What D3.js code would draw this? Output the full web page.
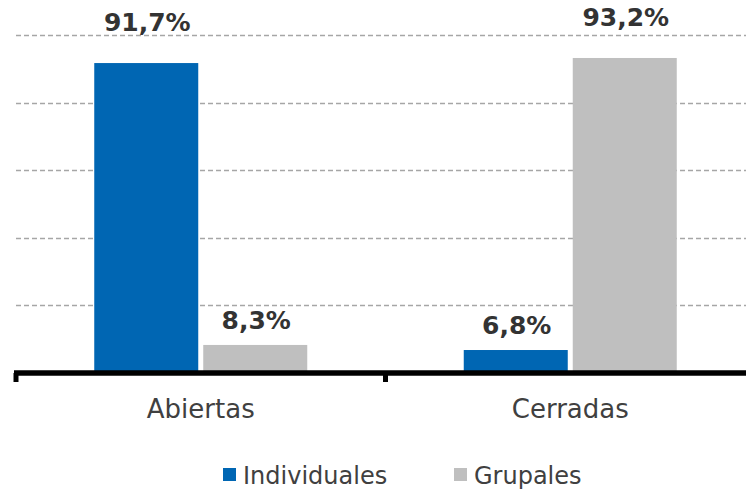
<!DOCTYPE html>
<html>
<head>
<meta charset="utf-8">
<script src="https://cdn.jsdelivr.net/npm/d3@7"></script>
<style>
  html, body { margin: 0; padding: 0; background: #fff; }
  svg { display: block; }
</style>
</head>
<body>
<svg id="chart" width="746" height="489"></svg>
<script>
const categories = ["Abiertas", "Cerradas"];
const seriesNames = ["Individuales", "Grupales"];
const individuales = [91.7, 6.8];
const grupales = [8.3, 93.2];
const yTicks = [0, 20, 40, 60, 80, 100];
const colors = ["#0066B3", "#BFBFBF"];

const fmt = v => d3.format(".1f")(v).replace(".", ",") + "%";

const svg = d3.select("#chart");
const W = 746, H = 489;

const y = d3.scaleLinear().domain([0, 100]).range([373, 35]);
const x0 = d3.scaleBand().domain(categories).range([16, 755]).padding(0);
const groupW = 213;
const x1 = d3.scaleBand().domain(seriesNames).range([0, groupW]).paddingInner(5 / 109).paddingOuter(0);
const color = d3.scaleOrdinal().domain(seriesNames).range(colors);

// gridlines
const grid = svg.append("g");
grid.selectAll("line")
  .data(yTicks.filter(t => t > 0))
  .join("line")
  .attr("x1", 16).attr("x2", W)
  .attr("y1", d => Math.round(y(d)) + 0.5)
  .attr("y2", d => Math.round(y(d)) + 0.5)
  .attr("stroke", "#A6A6A6")
  .attr("stroke-width", 1.3)
  .attr("stroke-dasharray", "5,3");

const data = categories.map((c, i) => ({
  cat: c,
  vals: [
    { s: seriesNames[0], v: individuales[i] },
    { s: seriesNames[1], v: grupales[i] }
  ]
}));

const groups = svg.append("g").selectAll("g")
  .data(data)
  .join("g")
  .attr("transform", d => `translate(${x0(d.cat) + (x0.bandwidth() - groupW) / 2},0)`);

groups.selectAll("rect")
  .data(d => d.vals)
  .join("rect")
  .attr("x", d => x1(d.s))
  .attr("width", x1.bandwidth())
  .attr("y", d => y(d.v))
  .attr("height", d => y(0) - y(d.v))
  .attr("fill", d => color(d.s));

groups.selectAll("text.val")
  .data(d => d.vals)
  .join("text")
  .attr("class", "val")
  .attr("x", d => x1(d.s) + x1.bandwidth() / 2 + 1)
  .attr("y", d => y(d.v) - (d.v > 50 ? 32 : 16))
  .attr("text-anchor", "middle")
  .attr("font-family", "DejaVu Sans, Verdana, sans-serif")
  .attr("font-weight", "bold")
  .attr("font-size", 25)
  .attr("fill", "#333333")
  .text(d => fmt(d.v));

// x axis
const xAxis = d3.axisBottom(x0).tickSize(0).tickFormat("");
const axG = svg.append("g").attr("transform", `translate(0,${y(0)})`).call(xAxis);
axG.select(".domain").remove();
axG.append("line")
  .attr("x1", 14).attr("x2", W)
  .attr("y1", 0).attr("y2", 0)
  .attr("stroke", "#000").attr("stroke-width", 5.5);
// boundary ticks
const bounds = categories.map(c => x0(c)).concat([x0(categories[categories.length - 1]) + x0.bandwidth()]);
axG.selectAll("line.bt")
  .data(bounds)
  .join("line")
  .attr("class", "bt")
  .attr("x1", d => d).attr("x2", d => d)
  .attr("y1", 0).attr("y2", 9)
  .attr("stroke", "#000").attr("stroke-width", 5);

// category labels
svg.append("g").selectAll("text")
  .data(categories)
  .join("text")
  .attr("x", d => x0(d) + x0.bandwidth() / 2)
  .attr("y", 418)
  .attr("text-anchor", "middle")
  .attr("font-family", "DejaVu Sans, Verdana, sans-serif")
  .attr("font-size", 26)
  .attr("fill", "#404040")
  .text(d => d);

// legend
const legendX = [223, 454];
const lg = svg.append("g").selectAll("g")
  .data(seriesNames)
  .join("g")
  .attr("transform", (d, i) => `translate(${legendX[i]},468)`);
lg.append("rect").attr("width", 13).attr("height", 13).attr("fill", d => color(d));
lg.append("text")
  .attr("x", 20).attr("y", 16)
  .attr("font-family", "DejaVu Sans, Verdana, sans-serif")
  .attr("font-size", 24)
  .attr("fill", "#404040")
  .text(d => d);
</script>
</body>
</html>
